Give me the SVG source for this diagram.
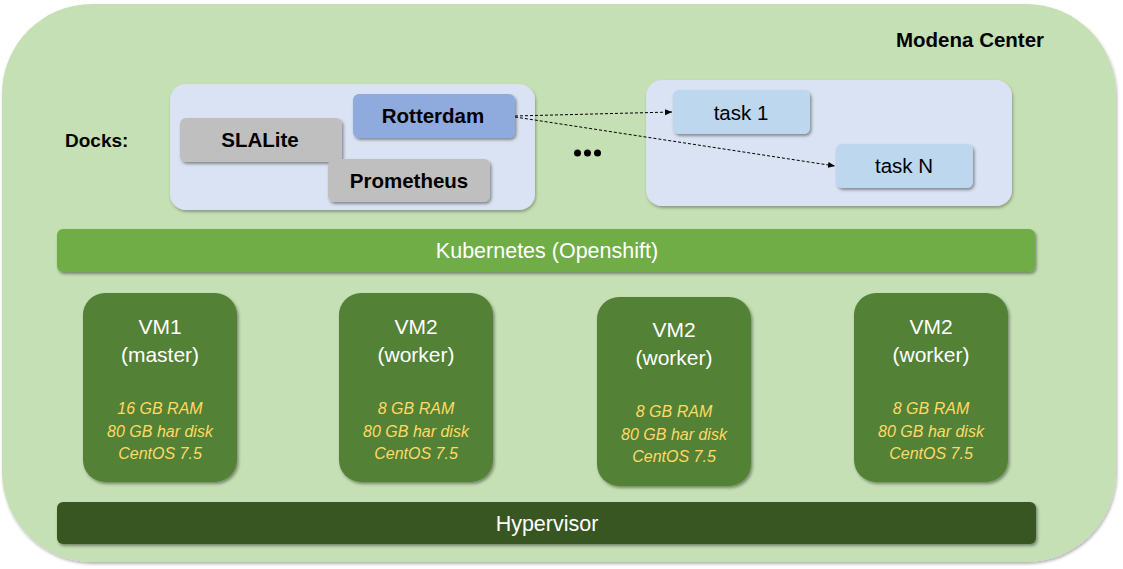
<svg xmlns="http://www.w3.org/2000/svg" width="1123" height="569" viewBox="0 0 1123 569">
<style>
text{font-family:"Liberation Sans",Arial,sans-serif}
.b{font-weight:bold;fill:#000;font-size:20.5px}
.w{fill:#fff;font-size:21px}
.i{fill:#ffd966;font-size:16px;font-style:italic}
.t{fill:#000;font-size:20.5px}
.bar{fill:#fff;font-size:21.5px}
.vm{fill:#538135}
.conn{stroke:#000;stroke-width:1;stroke-dasharray:3,2;fill:none}
</style>
<defs>
<filter id="sh" x="-20%" y="-20%" width="140%" height="140%">
<feDropShadow dx="1.5" dy="2" stdDeviation="1.5" flood-color="#000" flood-opacity="0.4"/>
</filter>
<filter id="sh2" x="-5%" y="-5%" width="110%" height="110%">
<feDropShadow dx="1" dy="2" stdDeviation="1.5" flood-color="#000" flood-opacity="0.3"/>
</filter>
<marker id="ah" markerWidth="8" markerHeight="8" refX="7" refY="4" orient="auto" markerUnits="userSpaceOnUse">
<path d="M0,1 L7,4 L0,7 Z" fill="#000"/>
</marker>
</defs>
<g id="modena-center">
<rect x="2" y="4" width="1114" height="558" rx="90" ry="90" fill="#c5e0b4" filter="url(#sh2)"/>
<text class="b" x="896" y="47">Modena Center</text>
</g>
<g id="docks-label"><text class="b" x="65" y="147" style="font-size:19px">Docks:</text></g>
<g id="docks-panel1">
<rect x="170" y="84" width="365" height="126" rx="16" fill="#dae3f3" filter="url(#sh2)"/>
</g>
<g id="slalite">
<rect x="180" y="118" width="162" height="44" rx="6" fill="#bfbfbf" filter="url(#sh)"/>
<text class="b" x="260" y="147" text-anchor="middle">SLALite</text>
</g>
<g id="prometheus">
<rect x="328" y="159" width="162" height="43" rx="6" fill="#bfbfbf" filter="url(#sh)"/>
<text class="b" x="409" y="188" text-anchor="middle">Prometheus</text>
</g>
<g id="rotterdam">
<rect x="353" y="94" width="162" height="44" rx="6" fill="#8faadc" filter="url(#sh)"/>
<text class="b" x="433" y="123" text-anchor="middle">Rotterdam</text>
</g>
<g id="ellipsis">
<circle cx="577.5" cy="153" r="3.5" fill="#000"/>
<circle cx="587.5" cy="153" r="3.5" fill="#000"/>
<circle cx="597.5" cy="153" r="3.5" fill="#000"/>
</g>
<g id="docks-panel2">
<rect x="646" y="80" width="366" height="126" rx="16" fill="#dae3f3" filter="url(#sh2)"/>
</g>
<g id="task1">
<rect x="673" y="90" width="137" height="44" rx="6" fill="#bdd7ee" filter="url(#sh)"/>
<text class="t" x="741" y="120" text-anchor="middle">task 1</text>
</g>
<g id="taskN">
<rect x="836" y="144" width="137" height="44" rx="6" fill="#bdd7ee" filter="url(#sh)"/>
<text class="t" x="904" y="173" text-anchor="middle">task N</text>
</g>
<g id="connectors">
<line class="conn" x1="515" y1="116" x2="672" y2="112" marker-end="url(#ah)"/>
<line class="conn" x1="515" y1="117" x2="835" y2="166" marker-end="url(#ah)"/>
</g>
<g id="kubernetes">
<rect x="57" y="229" width="978" height="43" rx="6" fill="#70ad47" filter="url(#sh)"/>
<text class="bar" x="547" y="258" text-anchor="middle">Kubernetes (Openshift)</text>
</g>
<g id="vm1">
<rect class="vm" x="83" y="293" width="154" height="189" rx="22" filter="url(#sh)"/>
<text class="w" x="160" y="334" text-anchor="middle">VM1</text>
<text class="w" x="160" y="362" text-anchor="middle">(master)</text>
<text class="i" x="160" y="414" text-anchor="middle">16 GB RAM</text>
<text class="i" x="160" y="437" text-anchor="middle">80 GB har disk</text>
<text class="i" x="160" y="459" text-anchor="middle">CentOS 7.5</text>
</g>
<g id="vm2">
<rect class="vm" x="339" y="293" width="154" height="189" rx="22" filter="url(#sh)"/>
<text class="w" x="416" y="334" text-anchor="middle">VM2</text>
<text class="w" x="416" y="362" text-anchor="middle">(worker)</text>
<text class="i" x="416" y="414" text-anchor="middle">8 GB RAM</text>
<text class="i" x="416" y="437" text-anchor="middle">80 GB har disk</text>
<text class="i" x="416" y="459" text-anchor="middle">CentOS 7.5</text>
</g>
<g id="vm3">
<rect class="vm" x="597" y="297" width="154" height="189" rx="22" filter="url(#sh)"/>
<text class="w" x="674" y="337" text-anchor="middle">VM2</text>
<text class="w" x="674" y="365" text-anchor="middle">(worker)</text>
<text class="i" x="674" y="417" text-anchor="middle">8 GB RAM</text>
<text class="i" x="674" y="440" text-anchor="middle">80 GB har disk</text>
<text class="i" x="674" y="462" text-anchor="middle">CentOS 7.5</text>
</g>
<g id="vm4">
<rect class="vm" x="854" y="293" width="154" height="189" rx="22" filter="url(#sh)"/>
<text class="w" x="931" y="334" text-anchor="middle">VM2</text>
<text class="w" x="931" y="362" text-anchor="middle">(worker)</text>
<text class="i" x="931" y="414" text-anchor="middle">8 GB RAM</text>
<text class="i" x="931" y="437" text-anchor="middle">80 GB har disk</text>
<text class="i" x="931" y="459" text-anchor="middle">CentOS 7.5</text>
</g>
<g id="hypervisor">
<rect x="57" y="502" width="979" height="42" rx="6" fill="#385723" filter="url(#sh)"/>
<text class="bar" x="547" y="531" text-anchor="middle">Hypervisor</text>
</g>
</svg>
